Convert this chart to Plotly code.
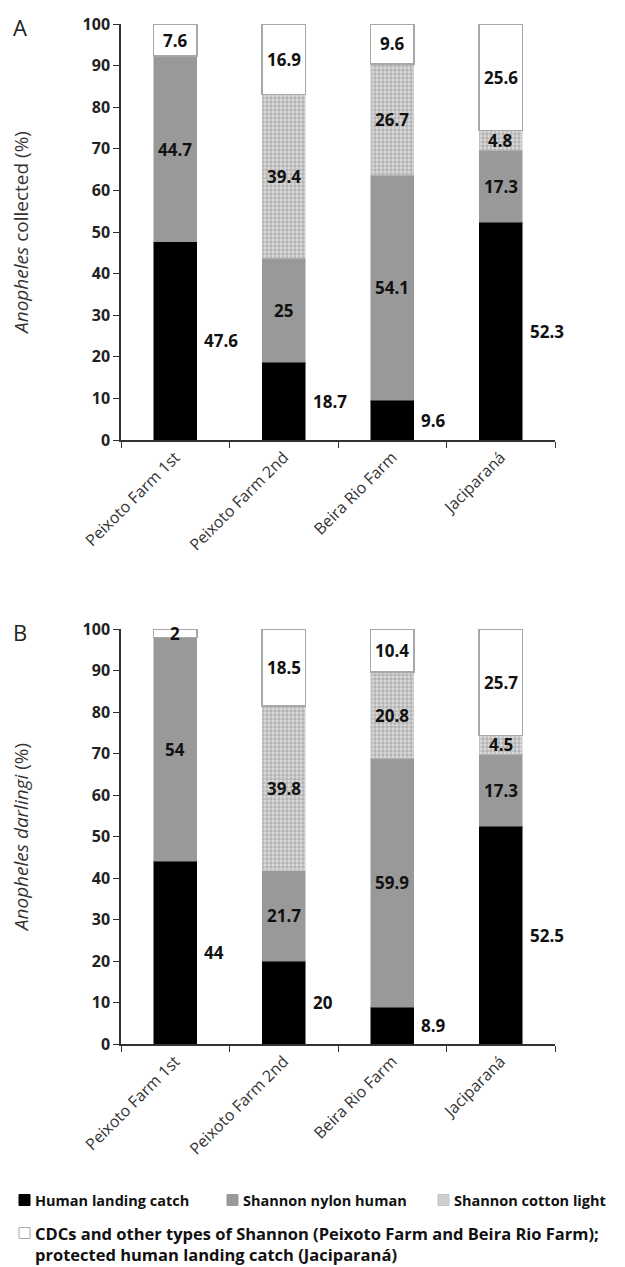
import plotly.graph_objects as go

sites = ["Peixoto Farm 1st", "Peixoto Farm 2nd", "Beira Rio Farm", "Jaciparaná"]

series_names = [
    "Human landing catch",
    "Shannon nylon human",
    "Shannon cotton light",
    "CDCs and other types of Shannon (Peixoto Farm and Beira Rio Farm);",
]
series_name_line2 = "protected human landing catch (Jaciparaná)"

# Panel A: Anopheles collected (%)
a_human = [47.6, 18.7, 9.6, 52.3]
a_nylon = [44.7, 25, 54.1, 17.3]
a_cotton = [0, 39.4, 26.7, 4.8]
a_other = [7.6, 16.9, 9.6, 25.6]

# Panel B: Anopheles darlingi (%)
b_human = [44, 20, 8.9, 52.5]
b_nylon = [54, 21.7, 59.9, 17.3]
b_cotton = [0, 39.8, 20.8, 4.5]
b_other = [2, 18.5, 10.4, 25.7]

styles = [
    dict(color="#000000", line=dict(color="#000000", width=0.5)),
    dict(color="#999999", line=dict(color="#999999", width=0.5)),
    dict(color="#d0d0d0", line=dict(color="#c8c8c8", width=0.5),
         pattern=dict(shape=".", fgcolor="#8c8c8c", bgcolor="#dadada", size=4, solidity=0.55)),
    dict(color="#ffffff", line=dict(color="#a8a8a8", width=1.5)),
]

FONT = "Open Sans"
W, H = 625, 1267
L, R, T, B = 113, 78, 16, 231
PW, PH = W - L - R, H - T - B


def px_x(px):
    return (px - L) / PW


def px_y(py):
    return (H - B - py) / PH


fig = go.Figure()

panels = [
    ("x", "y", [a_human, a_nylon, a_cotton, a_other]),
    ("x2", "y2", [b_human, b_nylon, b_cotton, b_other]),
]

annotations = []
shapes = []
for xa, ya, data in panels:
    for name, vals, st in zip(series_names, data, styles):
        fig.add_trace(go.Bar(
            x=sites, y=vals, name=name, marker=st, width=0.4,
            xaxis=xa, yaxis=ya, showlegend=False, hoverinfo="skip",
        ))
    for i, s in enumerate(sites):
        base = data[0][i]
        for k in range(1, 4):
            v = data[k][i]
            if v > 0:
                annotations.append(dict(
                    x=s, y=base + v / 2, xref=xa, yref=ya, text=f"<b>{v:g}</b>",
                    showarrow=False, font=dict(family=FONT, size=17, color="#111111"),
                ))
            base += v
        # label of the black segment, right of the bar at its mid-height
        annotations.append(dict(
            x=s, y=data[0][i] / 2, xref=xa, yref=ya, text=f"<b>{data[0][i]:g}</b>",
            showarrow=False, xanchor="left", xshift=27,
            font=dict(family=FONT, size=17, color="#111111"),
        ))

# panel letters
for letter, py in (("A", 19), ("B", 624)):
    annotations.append(dict(
        x=px_x(3), y=px_y(py), xref="paper", yref="paper", text=letter,
        showarrow=False, font=dict(family=FONT, size=22, color="#222222"),
        xanchor="left", yanchor="middle"))

# legend drawn as swatches + text
leg_items = [(11, 1192, 0), (219, 1192, 1), (430, 1192, 2), (11, 1225, 3)]
for sx, sy, k in leg_items:
    st = styles[k]
    shapes.append(dict(
        type="rect", xref="paper", yref="paper",
        x0=px_x(sx), x1=px_x(sx + 11), y0=px_y(sy + 5.5), y1=px_y(sy - 5.5),
        fillcolor=st["color"] if k != 2 else "#cfcfcf",
        line=dict(color=st["line"]["color"] if k != 2 else "#c4c4c4", width=1),
    ))
    annotations.append(dict(
        x=px_x(sx + 14), y=px_y(sy), xref="paper", yref="paper",
        text=series_names[k], showarrow=False, xanchor="left", yanchor="middle",
        font=dict(family=FONT, size=14.5 if k < 3 else 16.5, color="#111111",
                  weight=700),
    ))
annotations.append(dict(
    x=px_x(25), y=px_y(1246), xref="paper", yref="paper",
    text=series_name_line2, showarrow=False, xanchor="left", yanchor="middle",
    font=dict(family=FONT, size=16.5, color="#111111", weight=700),
))

axis_common = dict(
    showline=True, linecolor="#333333", linewidth=1.5, ticks="outside",
    ticklen=6, tickcolor="#333333", showgrid=False, zeroline=False, automargin=False,
)
xcommon = dict(tickson="boundaries", tickangle=-45, range=[-0.5, 3.5],
               tickfont=dict(family=FONT, size=16, color="#333333"), **axis_common)
ycommon = dict(range=[0, 100], dtick=10,
               tickfont=dict(family=FONT, size=16, color="#222222", weight="bold"),
               **axis_common)

fig.update_layout(
    width=W, height=H,
    paper_bgcolor="white", plot_bgcolor="white",
    barmode="stack",
    margin=dict(l=L, r=R, t=T, b=B),
    font=dict(family=FONT, color="#222222"),
    showlegend=False,
    xaxis=dict(domain=[0, 1], anchor="y", **xcommon),
    yaxis=dict(domain=[px_y(432), 1.0], anchor="x",
               title=dict(text="<i>Anopheles</i> collected (%)", standoff=50,
                          font=dict(family=FONT, size=19, color="#333333")),
               **ycommon),
    xaxis2=dict(domain=[0, 1], anchor="y2", **xcommon),
    yaxis2=dict(domain=[0.0, px_y(621)], anchor="x2",
                title=dict(text="<i>Anopheles darlingi</i> (%)", standoff=50,
                           font=dict(family=FONT, size=19, color="#333333")),
                **ycommon),
    annotations=annotations,
    shapes=shapes,
)

fig.write_html("out.html")
